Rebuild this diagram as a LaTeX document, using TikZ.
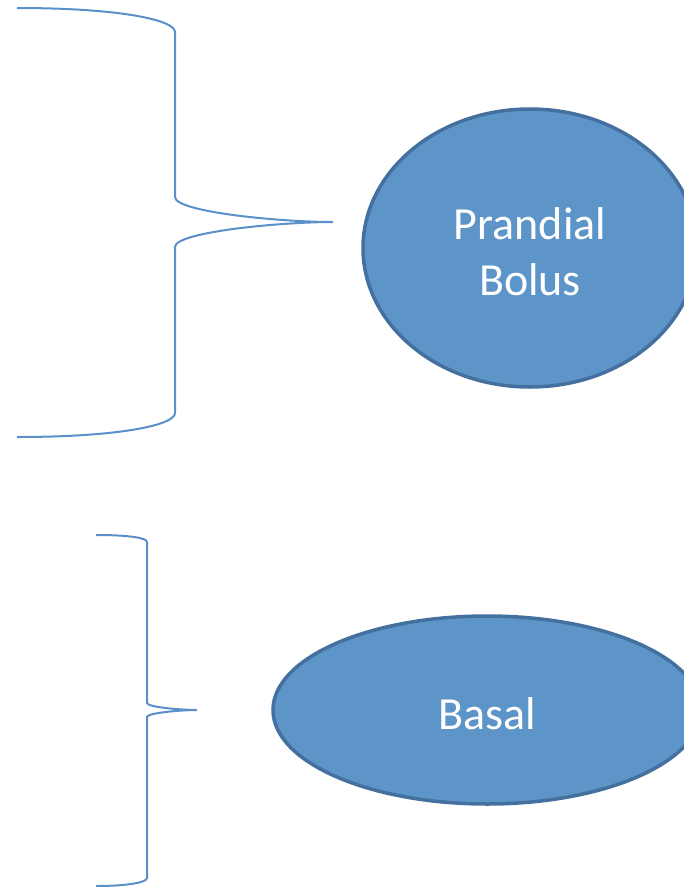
\documentclass[tikz,border=0pt]{standalone}
\usepackage{fontspec}
\setmainfont{Carlito}
\usetikzlibrary{shapes.geometric}

\definecolor{bracecol}{HTML}{5A8FCA}
\definecolor{ovalfill}{HTML}{5E95C8}
\definecolor{ovaldraw}{HTML}{43709E}

\tikzset{
	bracket/.style={draw=bracecol, line width=2pt},
	oval/.style={ellipse, fill=ovalfill, draw=ovaldraw, line width=3.5pt},
	ovaltext/.style={text=white, align=center, inner sep=0pt,
		font=\fontsize{46}{56}\selectfont}
}

\begin{document}
\begin{tikzpicture}[x=1pt, y=-1pt]
		\useasboundingbox (0,0) rectangle (684,887);
		\clip (0,0) rectangle (684,887);
		
		% big brace
		\draw[bracket] (17,8) .. controls (120,8) and (175,20) .. (175,32)
		-- (175,197) .. controls (175,212) and (280,222) .. (333,222)
		.. controls (280,222) and (175,232) .. (175,247)
		-- (175,413) .. controls (175,425) and (120,437) .. (17,437);
		
		% small brace
		\draw[bracket] (96,535) .. controls (130,535) and (147,538) .. (147,542)
		-- (147,703) .. controls (147,707) and (180,710) .. (197,710)
		.. controls (180,710) and (147,713) .. (147,717)
		-- (147,878) .. controls (147,882) and (130,886) .. (96,886);
		
		\node[oval, minimum width=334pt, minimum height=278pt] (prandial) at (530,248) {};
		\node[ovaltext] (prandialtext) at ([yshift=-4pt]prandial.center) {Prandial\\Bolus};
		\node[oval, minimum width=428pt, minimum height=188pt] (basal) at (487,710) {};
		\node[ovaltext] (basaltext) at ([yshift=-4pt]basal.center) {Basal};
		
		\end{tikzpicture}
\end{document}
